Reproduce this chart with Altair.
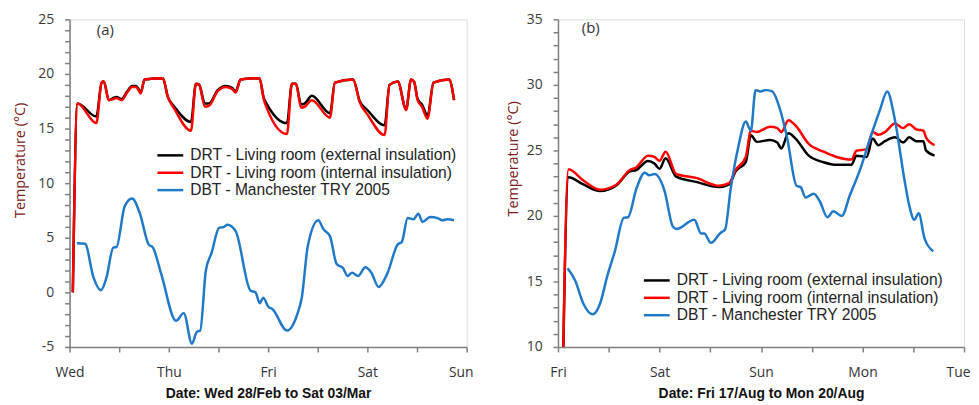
import altair as alt
import pandas as pd

SERIES = ["DRT - Living room (external insulation)",
          "DRT - Living room (internal insulation)",
          "DBT - Manchester TRY 2005"]
COLORS = ["#000000", "#ff0000", "#1f78c8"]

# ---------- panel (a): Wed 28/Feb to Sat 03/Mar (x in days from Wed 00:00) ----------
A_DAY_LABELS = ["Wed", "Thu", "Fri", "Sat", "Sun"]
A_DRT_DAY = [0.033, 0.08, 0.27, 0.323, 0.345, 0.396, 0.44, 0.473, 0.523, 0.58, 0.63, 0.67, 0.696, 0.716,
             0.756, 0.94, 0.99, 1.056, 1.223, 1.273, 1.306, 1.363, 1.406, 1.49, 1.573, 1.64, 1.673, 1.723,
             1.913, 1.956, 1.99, 2.19, 2.24, 2.28, 2.333, 2.37, 2.44, 2.623, 2.673, 2.856, 2.923, 3.0,
             3.173, 3.223, 3.306, 3.39, 3.44, 3.47, 3.506, 3.55, 3.606, 3.666, 3.823, 3.873]
A_EXT = [0, 17.3, 16.1, 19.2, 19.3, 17.6, 17.8, 17.9, 17.7, 18.4, 18.9, 18.9, 18.6, 18.3,
         19.5, 19.6, 17.9, 17.0, 15.6, 19.1, 19.0, 17.3, 17.3, 18.5, 18.9, 18.7, 18.4, 19.5,
         19.6, 17.8, 17.2, 15.5, 19.1, 19.1, 17.2, 17.3, 18.0, 16.4, 19.2, 19.5, 17.5, 16.7,
         15.3, 19.0, 19.3, 16.8, 19.5, 19.3, 17.7, 17.2, 16.2, 19.2, 19.5, 17.6]
A_INT = [0, 17.3, 15.5, 19.2, 19.3, 17.6, 17.7, 17.8, 17.6, 18.3, 18.8, 18.8, 18.5, 18.2,
         19.5, 19.6, 17.9, 16.8, 14.8, 19.1, 19.0, 17.0, 17.1, 18.4, 18.8, 18.6, 18.3, 19.5,
         19.6, 17.7, 16.8, 14.5, 19.1, 19.1, 16.9, 17.0, 17.6, 16.0, 19.2, 19.5, 17.4, 16.3,
         14.4, 19.0, 19.3, 16.7, 19.5, 19.3, 17.6, 17.0, 15.9, 19.2, 19.5, 17.6]
A_DBT_DAY = [0.073, 0.156, 0.24, 0.316, 0.373, 0.44, 0.473, 0.556, 0.63, 0.706, 0.796, 0.84, 0.923,
             1.073, 1.15, 1.233, 1.283, 1.316, 1.373, 1.43, 1.506, 1.556, 1.59, 1.673, 1.823, 1.873,
             1.916, 1.95, 2.006, 2.04, 2.19, 2.29, 2.34, 2.40, 2.506, 2.556, 2.623, 2.69, 2.756, 2.8,
             2.846, 2.906, 2.98, 3.04, 3.113, 3.2, 3.306, 3.346, 3.406, 3.466, 3.513, 3.556, 3.633,
             3.706, 3.756, 3.806, 3.873]
A_DBT = [4.5, 4.45, 1.4, 0.2, 1.4, 4.1, 4.15, 7.9, 8.6, 7.3, 4.4, 4.1, 1.7,
         -2.6, -1.9, -4.7, -3.6, -3.5, 2.0, 3.6, 5.9, 6.0, 6.2, 5.6, 0.15, 0.0,
         -1.0, -0.5, -1.35, -1.5, -3.5, -2.1, -0.45, 4.25, 6.6, 5.8, 5.15, 2.6, 2.2, 1.5,
         1.8, 1.5, 2.3, 1.8, 0.5, 1.7, 4.4, 4.6, 6.8, 6.7, 7.2, 6.45, 6.9,
         6.8, 6.6, 6.7, 6.6]

# ---------- panel (b): Fri 17/Aug to Mon 20/Aug ----------
B_DAY_LABELS = ["Fri", "Sat", "Sun", "Mon", "Tue"]
B_DRT_DAY = [0.031, 0.104, 0.25, 0.414, 0.577, 0.707, 0.77, 0.886, 0.95, 1.0, 1.06, 1.164, 1.36,
             1.587, 1.685, 1.75, 1.85, 1.9, 1.96, 2.09, 2.16, 2.2, 2.27, 2.34, 2.47, 2.616, 2.745,
             2.89, 2.94, 3.04, 3.1, 3.155, 3.22, 3.32, 3.40, 3.46, 3.53, 3.6, 3.625, 3.71]
B_EXT = [0, 22.95, 22.4, 21.9, 22.35, 23.4, 23.5, 24.2, 24.0, 23.6, 24.4, 23.0, 22.6,
         22.2, 22.4, 23.4, 24.1, 26.15, 25.65, 25.8, 25.6, 25.15, 26.3, 25.9, 24.6, 24.1, 23.9,
         23.9, 24.6, 24.5, 25.9, 25.4, 25.7, 26.0, 25.6, 26.0, 25.7, 25.7, 25.0, 24.6]
B_INT = [0, 23.56, 22.7, 22.0, 22.4, 23.5, 23.7, 24.6, 24.5, 24.2, 24.9, 23.2, 22.9,
         22.3, 22.5, 23.5, 24.5, 26.5, 26.4, 26.8, 26.7, 26.4, 27.3, 26.9, 25.5, 24.9, 24.5,
         24.3, 24.97, 25.1, 26.4, 26.2, 26.4, 27.05, 26.7, 27.0, 26.6, 26.5, 26.0, 25.4]
B_DBT_DAY = [0.094, 0.17, 0.25, 0.342, 0.414, 0.485, 0.56, 0.648, 0.69, 0.773, 0.854, 0.9, 0.95,
             1.05, 1.13, 1.164, 1.343, 1.41, 1.44, 1.506, 1.6, 1.646, 1.70, 1.777, 1.85, 1.9,
             1.946, 1.995, 2.044, 2.11, 2.19, 2.256, 2.35, 2.39, 2.44, 2.52, 2.58, 2.654, 2.713,
             2.795, 2.876, 2.974, 3.07, 3.17, 3.243, 3.315, 3.413, 3.46, 3.51, 3.553, 3.61, 3.697]
B_DBT = [16.0, 15.05, 13.3, 12.5, 13.3, 15.4, 17.3, 19.85, 19.9, 22.1, 23.3, 23.1, 23.2,
         21.9, 19.2, 19.0, 19.7, 18.65, 18.65, 17.95, 18.7, 18.96, 22.0, 25.3, 27.2, 26.5,
         29.6, 29.5, 29.6, 29.5, 28.05, 26.0, 22.3, 22.2, 21.4, 21.7, 21.1, 19.9, 20.35,
         20.0, 21.6, 23.5, 25.8, 28.05, 29.5, 27.5, 22.75, 20.8, 19.7, 20.2, 18.3, 17.3]


def frame(drt_day, ext, intr, dbt_day, dbt):
    rows = []
    for d, v in zip(drt_day, ext):
        rows.append((SERIES[0], d, v))
    for d, v in zip(drt_day, intr):
        rows.append((SERIES[1], d, v))
    for d, v in zip(dbt_day, dbt):
        rows.append((SERIES[2], d, v))
    return pd.DataFrame(rows, columns=["series", "day", "temp"])


AXIS_GRAY = "#7f7f7f"


def panel(df, ymin, ymax, day_labels, xtitle, tag, width, title_x, title_y, leg_x, leg_y, tag_x, tag_y):
    names = "[" + ",".join("'" + d + "'" for d in day_labels) + "]"
    x = alt.X("day:Q",
              scale=alt.Scale(domain=[0, 4], nice=False, zero=False),
              axis=alt.Axis(values=[i * 0.5 for i in range(9)],
                            labelExpr="datum.value % 1 == 0 ? " + names + "[datum.value] : ''",
                            labelFlush=False,
                            title=xtitle, grid=False, tickSize=5, tickWidth=1.5,
                            domainColor=AXIS_GRAY, tickColor=AXIS_GRAY, domainWidth=1.5,
                            labelFont="Open Sans", labelFontSize=14, labelColor="#333333",
                            labelPadding=14,
                            labelOffset={"condition": {"test": "datum.value == 4", "value": -6}, "value": 0},
                            titleFont="Liberation Sans", titleFontSize=14, titleFontWeight="bold",
                            titleColor="#111111", titlePadding=7))
    y = alt.Y("temp:Q",
              scale=alt.Scale(domain=[ymin, ymax], nice=False, zero=False),
              axis=alt.Axis(values=list(range(ymin, ymax + 1)),
                            labelExpr="datum.value % 5 == 0 ? '' + datum.value : ''",
                            title="Temperature (°C)", grid=False, tickSize=5, tickWidth=1.5,
                            domainColor=AXIS_GRAY, tickColor=AXIS_GRAY, domainWidth=1.5,
                            labelFont="Open Sans", labelFontSize=14, labelColor="#3a3a3a",
                            labelPadding=11,
                            titleFont="Open Sans", titleFontSize=14.5, titleFontWeight="normal",
                            titleColor="#7a2020", titleX=title_x, titleY=title_y,
                            titleBaseline="middle", titleAngle=270))
    color = alt.Color("series:N",
                      scale=alt.Scale(domain=SERIES, range=COLORS),
                      sort=SERIES,
                      legend=alt.Legend(title=None, orient="none", legendX=leg_x, legendY=leg_y,
                                        symbolType="M-2,0H2", symbolSize=169, symbolStrokeWidth=2.5,
                                        symbolFillColor="transparent",
                                        labelFont="Liberation Sans", labelFontSize=15.7,
                                        labelColor="#222222", labelOffset=12, rowPadding=1.5,
                                        padding=0, labelLimit=400))
    lines = alt.Chart(df).mark_line(clip=True, strokeWidth=2.5, interpolate="monotone").encode(
        x=x, y=y, color=color, order=alt.Order("day:Q"))
    label = alt.Chart(pd.DataFrame({"t": [tag]})).mark_text(
        font="Open Sans", fontSize=15, color="#333333", align="center", baseline="middle").encode(
        text="t:N", x=alt.value(tag_x), y=alt.value(tag_y))
    return alt.layer(lines, label).properties(width=width, height=330)


dfa = frame(A_DRT_DAY, A_EXT, A_INT, A_DBT_DAY, A_DBT)
dfb = frame(B_DRT_DAY, B_EXT, B_INT, B_DBT_DAY, B_DBT)

pa = panel(dfa, -5, 25, A_DAY_LABELS, "Date: Wed 28/Feb to Sat 03/Mar", "(a)", 400,
           -49, 141.5, 93.5, 129, 36, 11)
pb = panel(dfb, 10, 35, B_DAY_LABELS, "Date: Fri 17/Aug to Mon 20/Aug", "(b)", 409,
           -45, 140, 91.5, 255, 33, 9)

chart = alt.hconcat(pa, pb, spacing=31).resolve_scale(color="independent").resolve_legend(
    color="independent").properties(
    padding={"left": 4, "top": 2, "right": 0, "bottom": 0}
).configure_view(stroke=None).configure(background="white")

chart.save("out.html", embed_options={"renderer": "svg", "actions": False})
